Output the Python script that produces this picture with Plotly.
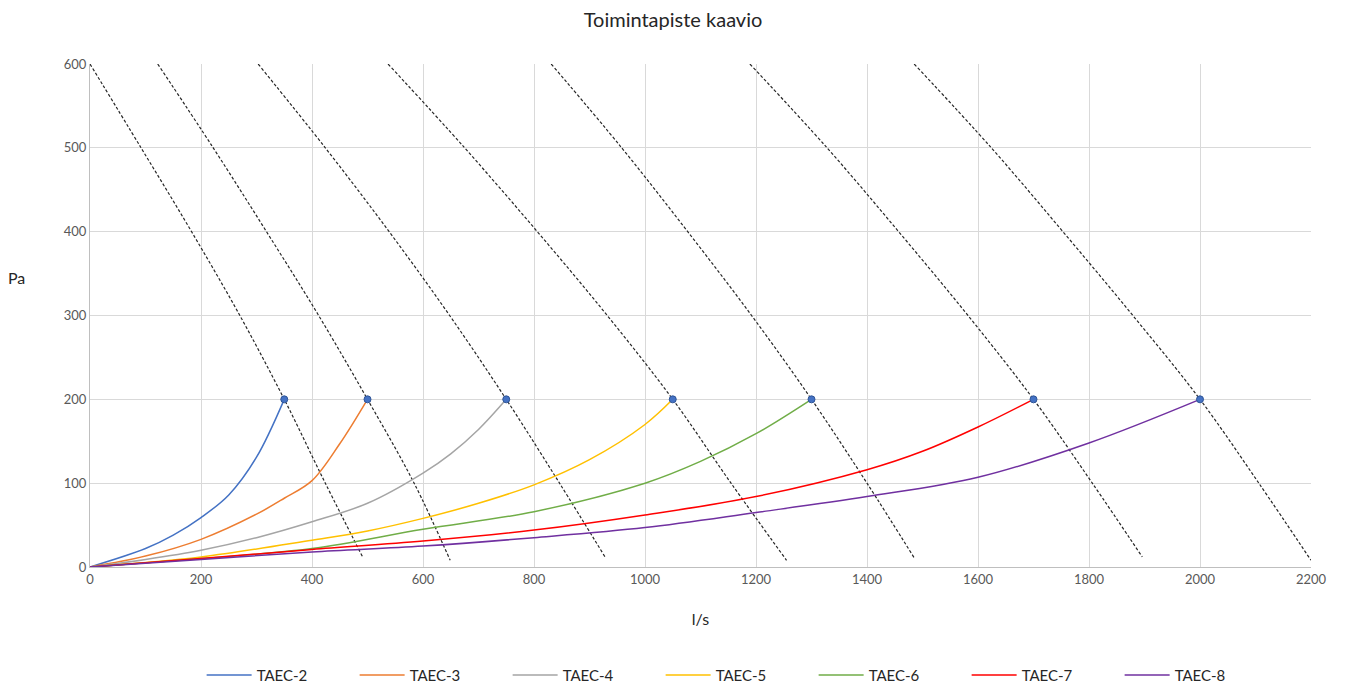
import plotly.graph_objects as go

# ---- data ----
series_names = ["TAEC-2", "TAEC-3", "TAEC-4", "TAEC-5", "TAEC-6", "TAEC-7", "TAEC-8"]
series_colors = ["#4472C4", "#ED7D31", "#A5A5A5", "#FFC000", "#70AD47", "#FF0000", "#7030A0"]

taec2_x = [0, 100, 150, 200, 250, 300, 350]
taec2_y = [0, 22, 38, 59, 86, 131, 200]
taec3_x = [0, 100, 200, 300, 350, 400, 450, 500]
taec3_y = [0, 13, 33, 63, 82, 103, 147, 200]
taec4_x = [0, 100, 200, 300, 400, 500, 600, 650, 700, 750]
taec4_y = [0, 9, 20, 35, 54, 76, 112, 135, 164, 200]
taec5_x = [0, 200, 400, 500, 600, 700, 800, 900, 1000, 1050]
taec5_y = [0, 12, 32, 43, 58, 76, 98, 128, 170, 200]
taec6_x = [0, 200, 400, 600, 800, 1000, 1100, 1200, 1300]
taec6_y = [0, 10, 22, 45, 66, 100, 126, 159, 200]
taec7_x = [0, 200, 400, 600, 800, 1000, 1200, 1400, 1500, 1600, 1700]
taec7_y = [0, 10, 21, 31, 44, 62, 84, 116, 138, 167, 200]
taec8_x = [0, 200, 400, 600, 800, 1000, 1200, 1400, 1600, 1800, 2000]
taec8_y = [0, 9, 18, 25, 35, 47, 65, 84, 107, 148, 200]

series_x = [taec2_x, taec3_x, taec4_x, taec5_x, taec6_x, taec7_x, taec8_x]
series_y = [taec2_y, taec3_y, taec4_y, taec5_y, taec6_y, taec7_y, taec8_y]

# fan curves (dashed)
fan_y_levels = [600, 500, 400, 300, 200, 100]
fan1_x = [0, 92, 183, 270, 350, 424, 492]
fan1_y = fan_y_levels + [11]
fan2_x = [122, 222, 318, 412, 500, 584, 649]
fan2_y = fan_y_levels + [8]
fan3_x = [303, 424, 539, 648, 750, 846, 928]
fan3_y = fan_y_levels + [12]
fan4_x = [537, 675, 806, 932, 1050, 1155, 1255]
fan4_y = fan_y_levels + [8]
fan5_x = [831, 958, 1077, 1192, 1300, 1400, 1485]
fan5_y = fan_y_levels + [11]
fan6_x = [1189, 1328, 1457, 1582, 1700, 1806, 1896]
fan6_y = fan_y_levels + [12]
fan7_x = [1485, 1624, 1753, 1879, 2000, 2106, 2200]
fan7_y = fan_y_levels + [8]

fan_x = [fan1_x, fan2_x, fan3_x, fan4_x, fan5_x, fan6_x, fan7_x]
fan_y = [fan1_y, fan2_y, fan3_y, fan4_y, fan5_y, fan6_y, fan7_y]

op_flow = [350, 500, 750, 1050, 1300, 1700, 2000]
op_pressure = [200, 200, 200, 200, 200, 200, 200]

x_ticks = [0, 200, 400, 600, 800, 1000, 1200, 1400, 1600, 1800, 2000, 2200]
y_ticks = [0, 100, 200, 300, 400, 500, 600]

FONT = "Lato"

fig = go.Figure()

for fx, fy in zip(fan_x, fan_y):
    fig.add_trace(go.Scatter(
        x=fx, y=fy, mode="lines", showlegend=False, hoverinfo="skip",
        line=dict(color="#262626", width=1.2, dash="3px,2px", shape="spline", smoothing=1.0),
    ))

for name, color, sx, sy in zip(series_names, series_colors, series_x, series_y):
    fig.add_trace(go.Scatter(
        x=sx, y=sy, mode="lines", name=name,
        line=dict(color=color, width=1.5, shape="spline", smoothing=1.0),
    ))

fig.add_trace(go.Scatter(
    x=op_flow, y=op_pressure, mode="markers", showlegend=False,
    marker=dict(color="#4472C4", size=7, line=dict(color="#2F5597", width=1)),
    cliponaxis=False,
))

fig.update_layout(
    width=1346, height=683,
    paper_bgcolor="white", plot_bgcolor="white",
    margin=dict(l=90, r=35, t=64, b=116, autoexpand=False),
    font=dict(family=FONT, color="#595959", size=13),
    title=dict(text="Toimintapiste kaavio", x=0.5, xanchor="center", y=0.971, yanchor="middle",
               font=dict(family=FONT, size=20, color="#262626")),
    xaxis=dict(
        range=[0, 2200], tickvals=x_ticks, ticktext=[str(v) for v in x_ticks],
        showgrid=True, gridcolor="#D9D9D9", gridwidth=1,
        showline=True, linecolor="#BFBFBF", linewidth=1,
        zeroline=False, ticks="", ticklen=0,
        title=dict(text="l/s", font=dict(family=FONT, size=16, color="#262626"), standoff=28),
        tickfont=dict(size=13, color="#595959"),
    ),
    yaxis=dict(
        range=[0, 600], tickvals=y_ticks, ticktext=[str(v) for v in y_ticks],
        showgrid=True, gridcolor="#D9D9D9", gridwidth=1,
        showline=True, linecolor="#BFBFBF", linewidth=1,
        zeroline=False, ticks="", ticklen=0,
        tickfont=dict(size=13, color="#595959"),
    ),
    legend=dict(
        orientation="h", x=0.53, xanchor="center", y=-0.215, yanchor="middle",
        font=dict(family=FONT, size=15, color="#262626"),
        entrywidth=93, entrywidthmode="pixels",
        itemwidth=45,
    ),
    annotations=[dict(
        text="Pa", xref="paper", yref="paper", x=-0.06, y=0.575,
        xanchor="center", yanchor="middle", showarrow=False,
        font=dict(family=FONT, size=16, color="#262626"),
    )],
)

fig.write_html("out.html", config={"displayModeBar": False},
               post_script="document.body.style.margin='0';")
